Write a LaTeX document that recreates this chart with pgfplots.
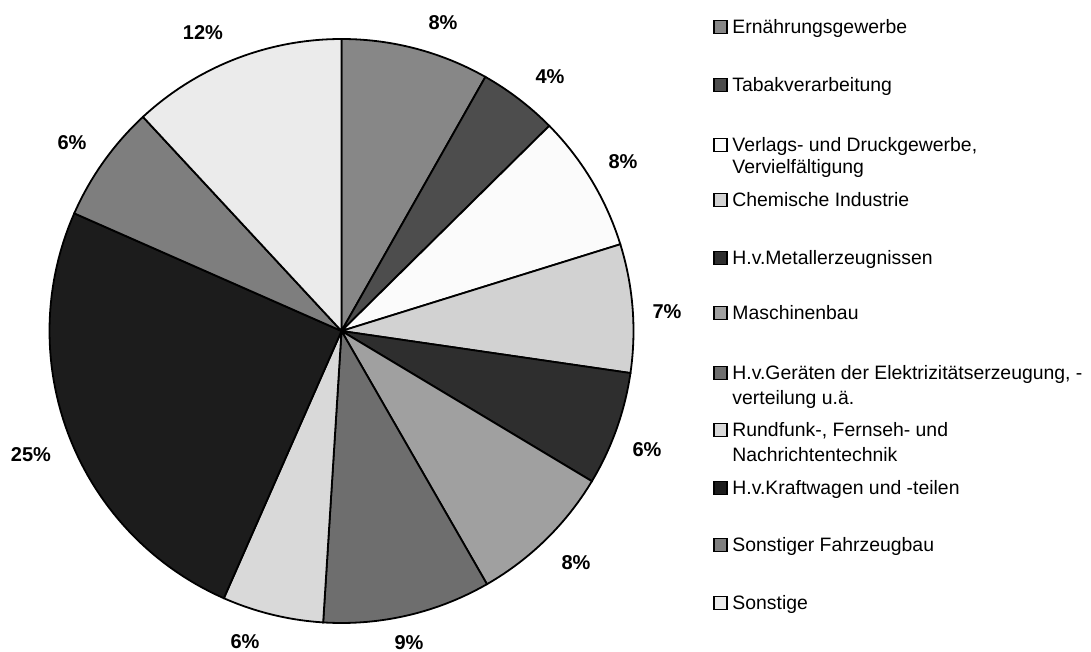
\documentclass[border=0pt]{standalone}
\usepackage{pgfplots}
\pgfplotsset{compat=1.18}
\usepgfplotslibrary{polar}
\usepackage{fontspec}
\setmainfont{Liberation Sans}
\definecolor{c1}{HTML}{878787}
\definecolor{c2}{HTML}{4D4D4D}
\definecolor{c3}{HTML}{FBFBFB}
\definecolor{c4}{HTML}{D2D2D2}
\definecolor{c5}{HTML}{2E2E2E}
\definecolor{c6}{HTML}{A0A0A0}
\definecolor{c7}{HTML}{6E6E6E}
\definecolor{c8}{HTML}{D9D9D9}
\definecolor{c9}{HTML}{1C1C1C}
\definecolor{c10}{HTML}{7E7E7E}
\definecolor{c11}{HTML}{EBEBEB}
% one slice: value in percent, colour; slices run clockwise from 12 o'clock
\newcommand\slice[2]{%
  \pgfmathsetmacro\sa{90-3.6*\cum}%
  \pgfmathsetmacro\sb{90-3.6*(\cum+#1)}%
  \edef\temp{\noexpand\addplot[draw=black, line width=0.9pt, fill=#2, domain=\sb:\sa, samples=60] {1} -- (axis cs:0,0) -- cycle;}%
  \temp
  \pgfmathsetmacro\newcum{\cum+#1}%
  \xdef\cum{\newcum}%
}
\begin{document}
\begin{tikzpicture}[x=0.5pt,y=0.5pt]
\path[use as bounding box] (0,0) rectangle (1091,652);
\begin{polaraxis}[at={(170.75pt,160.5pt)}, anchor=center, scale only axis,
  width=292pt, height=292pt, xmin=0, xmax=360, ymin=0, ymax=1,
  hide axis, clip=false]
\xdef\cum{0}
\slice{8.2}{c1}
\slice{4.4}{c2}
\slice{7.6}{c3}
\slice{7.1}{c4}
\slice{6.3}{c5}
\slice{8.1}{c6}
\slice{9.3}{c7}
\slice{5.6}{c8}
\slice{25.0}{c9}
\slice{6.5}{c10}
\slice{11.9}{c11}
\end{polaraxis}
% percentage labels (image pixel positions, y from top)
\foreach \px/\py/\t in {443/23/8, 550/77/4, 623/162/8, 667/312/7, 647/450/6,
  576/563/8, 409/643/9, 245/642/6, 31/455/25, 72/143/6, 203/33/12}
  \node[font=\bfseries\fontsize{10}{12}\selectfont, inner sep=0pt] at (\px,652-\py) {\t\%};
% legend
\foreach \py/\c in {27/c1, 85/c2, 145/c3, 200/c4, 258/c5, 313/c6, 373/c7, 430/c8, 488/c9, 545/c10, 603/c11}
  \draw[line width=0.9pt, fill=\c] (714,652-\py-6.5) rectangle (727,652-\py+6.5);
\foreach \py/\t in {27/{Ernährungsgewerbe}, 85/{Tabakverarbeitung},
  145/{Verlags- und Druckgewerbe,}, 167/{Vervielfältigung},
  200/{Chemische Industrie}, 258/{H.v.Metallerzeugnissen}, 313/{Maschinenbau},
  373/{H.v.Geräten der Elektrizitätserzeugung, -}, 398/{verteilung u.ä.},
  430/{Rundfunk-, Fernseh- und}, 455/{Nachrichtentechnik},
  488/{H.v.Kraftwagen und -teilen}, 545/{Sonstiger Fahrzeugbau}, 603/{Sonstige}}
  \node[font=\fontsize{9.7}{11}\selectfont, inner sep=0pt, anchor=base west] at (732,652-\py-6.8) {\t};
\end{tikzpicture}
\end{document}
